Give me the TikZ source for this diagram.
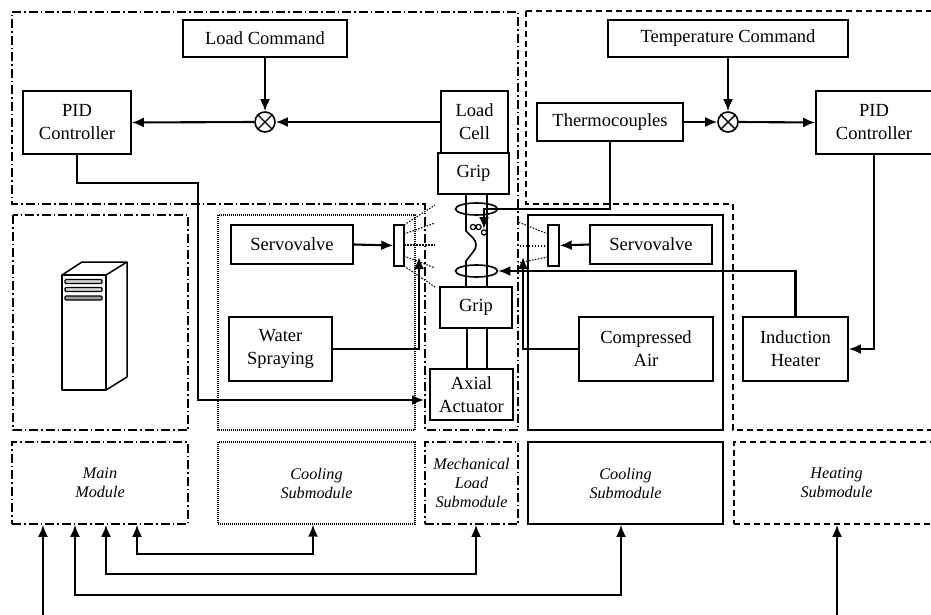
\documentclass[tikz,border=0pt]{standalone}
\usepackage{fontspec}
\setmainfont{Liberation Serif}
\usetikzlibrary{arrows.meta,shapes.geometric}
\tikzset{
 blk/.style={draw, line width=1.7pt, inner sep=0pt, align=center, font=\fontsize{18.5}{23}\selectfont},
 lbl/.style={inner sep=0pt, align=center, font=\fontsize{16.2}{19}\selectfont\itshape},
 arr/.style={line width=2.1pt, -{Latex[length=12pt,width=10pt]}},
 arrb/.style={line width=2.1pt, {Latex[length=12pt,width=10pt]}-{Latex[length=12pt,width=10pt]}},
 dashdotline/.style={line width=1.6pt, dash pattern=on 9pt off 3pt on 1.5pt off 3pt},
 dashline/.style={line width=1.6pt, dash pattern=on 6pt off 4pt},
 dotline/.style={line width=1.1pt, dash pattern=on 1pt off 1pt},
 fan/.style={line width=1.1pt, dash pattern=on 1.5pt off 1.5pt},
 sumjn/.style={draw, circle, line width=1.6pt, minimum size=20pt, inner sep=0pt},
 ell/.style={draw, ellipse, line width=1.6pt, minimum width=42pt, minimum height=12pt, inner sep=0pt},
}
\begin{document}
\begin{tikzpicture}[x=1pt,y=-1pt]
\useasboundingbox (0,0) rectangle (931,615);

% ---------- regions ----------
\draw[dashdotline] (12,12) -- (518,12) -- (518,430) -- (425,430) -- (425,204) -- (12,204) -- cycle;
\draw[dashline] (526,11) -- (945,11) -- (945,430) -- (733,430) -- (733,204) -- (526,204) -- cycle;
\draw[dashdotline] (13,215) rectangle (188,430);
\draw[dotline] (218,215) rectangle (415,430);
\draw[line width=1.7pt] (528,215) rectangle (723,430);

% ---------- server icon ----------
\draw[line width=1.5pt, line join=round] (62,275) rectangle (106,390);
\draw[line width=1.5pt, line join=round] (62,275) -- (82,262) -- (127,262) -- (106,275);
\draw[line width=1.5pt, line join=round] (127,262) -- (127,377) -- (106,390);
\draw[line width=1.1pt, fill=gray!35, rounded corners=1pt] (65,279.5) rectangle (102,283.5);
\draw[line width=1.1pt, fill=gray!35, rounded corners=1pt] (65,287.5) rectangle (102,291.5);
\draw[line width=1.1pt, fill=gray!75, rounded corners=1pt] (65,296) rectangle (102,300);

% ---------- blocks ----------
\node[blk, minimum width=164pt, minimum height=37pt] (loadcmd) at (265,38.5) {Load Command};
\node[blk, minimum width=108pt, minimum height=63pt] (pidL) at (77,122.5) {PID\\Controller};
\node[blk, minimum width=67pt, minimum height=62pt] (loadcell) at (474.5,122) {Load\\Cell};
\node[blk, minimum width=71pt, minimum height=41pt] (gripT) at (473.5,173.5) {Grip};
\node[blk, minimum width=240pt, minimum height=37pt] (tempcmd) at (728,38.5) {Temperature Command};
\node[blk, minimum width=146pt, minimum height=38pt] (thermo) at (610,122) {Thermocouples};
\node[blk, minimum width=116pt, minimum height=63pt] (pidR) at (874,122.5) {PID\\Controller};
\node[blk, minimum width=122pt, minimum height=39pt] (servoL) at (292,244.5) {Servovalve};
\node[blk, minimum width=122pt, minimum height=39pt] (servoR) at (651,244.5) {Servovalve};
\node[blk, minimum width=103pt, minimum height=64pt] (water) at (280.5,349) {Water\\Spraying};
\node[blk, minimum width=134pt, minimum height=64pt] (air) at (646,349) {Compressed\\Air};
\node[blk, minimum width=105pt, minimum height=64pt] (induct) at (795.5,349) {Induction\\Heater};
\node[blk, minimum width=72pt, minimum height=41pt] (gripB) at (476,307.5) {Grip};
\node[blk, minimum width=83pt, minimum height=51pt] (actuator) at (471.5,394.5) {Axial\\Actuator};
\node[draw, line width=1.5pt, minimum width=10pt, minimum height=41pt, inner sep=0pt] (nozL) at (399,245.5) {};
\node[draw, line width=1.5pt, minimum width=11pt, minimum height=41pt, inner sep=0pt] (nozR) at (553.5,245.5) {};
\node[sumjn] (sumL) at (265,122) {};
\node[sumjn] (sumR) at (728,122) {};
\draw[line width=1.4pt] (sumL.north east) -- (sumL.south west) (sumL.north west) -- (sumL.south east);
\draw[line width=1.4pt] (sumR.north east) -- (sumR.south west) (sumR.north west) -- (sumR.south east);

% ---------- specimen ----------
\draw[line width=1.6pt] (466,194) -- (466,231) -- (473,238) .. controls (477,242) and (477,248) .. (473,252) -- (466,261) -- (466,287);
\draw[line width=1.6pt] (487,194) -- (487,287);
\draw[line width=1.6pt] (467,328) -- (467,369);
\draw[line width=1.6pt] (487,328) -- (487,369);
\node[ell] (ellT) at (476.5,209) {};
\node[ell] (ellB) at (476.5,271) {};
\draw[line width=1.2pt] (473,227) circle (2.6pt) (478.5,227) circle (2.6pt) (484,232.5) circle (2.6pt);

% ---------- spray fans ----------
\draw[fan] (404,225) -- (435,205);
\draw[fan] (404,234) -- (435,223);
\draw[fan] (404,245) -- (435,245);
\draw[fan] (404,256) -- (435,268);
\draw[fan] (404,266) -- (435,287);
\draw[fan] (548,234) -- (518,222);
\draw[fan] (548,246) -- (518,246);
\draw[fan] (548,257) -- (518,263);

% ---------- module labels ----------
\node[lbl, draw, dashdotline, minimum width=176pt, minimum height=82pt] (mainmod) at (100,483) {Main\\Module};
\node[lbl, draw, dotline, minimum width=197pt, minimum height=82pt] (coolL) at (316.5,483) {Cooling\\Submodule};
\node[lbl, draw, dashdotline, minimum width=93pt, minimum height=82pt] (mechmod) at (471.5,483) {Mechanical\\Load\\Submodule};
\node[lbl, draw, line width=1.7pt, minimum width=195pt, minimum height=82pt] (coolR) at (625.5,483) {Cooling\\Submodule};
\node[lbl, draw, dashline, minimum width=205pt, minimum height=82pt] (heatmod) at (836.5,483) {Heating\\Submodule};

% ---------- connectors (top) ----------
\draw[arr] (loadcmd.south) -- (sumL.north);
\draw[arr] (loadcell.west) -- (sumL.east);
\draw[arr] (sumL.west) -- (pidL.east);
\coordinate (actin) at (424,400);
\draw[arr] (pidL.south) |- (198,183) -- (198,400) -- (actin);
\draw[arr] (tempcmd.south) -- (sumR.north);
\draw[arr] (thermo.east) -- (sumR.west);
\draw[arr] (sumR.east) -- (pidR.west);
\coordinate (tctip) at (484,229);
\draw[arr] (thermo.south) |- (484,209) -- (tctip);
\draw[arr] (pidR.south) |- (induct.east);
\draw[arr] (induct.north) |- (ellB.east);
\draw[arr] (servoL.east) -- (nozL.west);
\draw[arr] (servoR.west) -- (nozR.east);
\coordinate (wtip) at (419,257);
\draw[arr] (water.east) -| (wtip);
\coordinate (atip) at (523,257);
\draw[arr] (air.west) -| (atip);

% ---------- connectors (bottom) ----------
\draw[arrb] (137,0 |- mainmod.south) -- (137,554) -- (313,554) -- (313,0 |- coolL.south);
\draw[arrb] (106,0 |- mainmod.south) -- (106,574) -- (476,574) -- (476,0 |- mechmod.south);
\draw[arrb] (75,0 |- mainmod.south) -- (75,595) -- (621,595) -- (621,0 |- coolR.south);
\coordinate (inL) at (43,620);
\coordinate (inR) at (837,620);
\draw[arr] (inL) -- (43,0 |- mainmod.south);
\draw[arr] (inR) -- (837,0 |- heatmod.south);
\end{tikzpicture}
\end{document}
